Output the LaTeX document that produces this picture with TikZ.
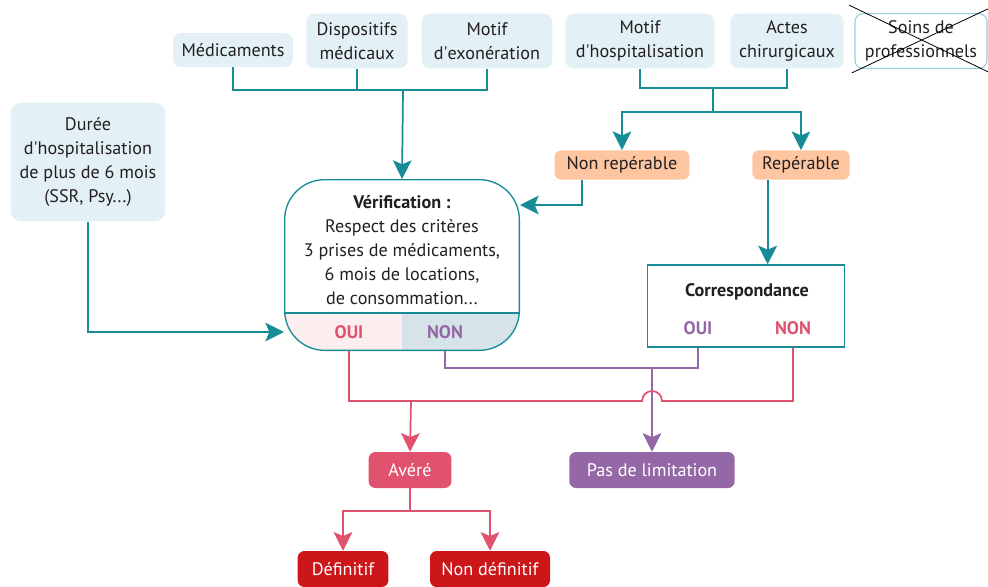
\documentclass[tikz,border=0pt]{standalone}
\usepackage{fontspec}
\setmainfont{PT Sans}
\usepackage{xcolor}
\usepackage{tikz}
\usetikzlibrary{arrows.meta,positioning,calc}
\definecolor{tealc}{RGB}{24,140,150}
\definecolor{lblue}{RGB}{227,241,247}
\definecolor{lborder}{RGB}{150,205,225}
\definecolor{peach}{RGB}{253,197,160}
\definecolor{pinkc}{RGB}{224,82,110}
\definecolor{purc}{RGB}{148,104,166}
\definecolor{dred}{RGB}{204,22,26}
\definecolor{ouibg}{RGB}{252,238,238}
\definecolor{nonbg}{RGB}{214,228,233}
\definecolor{txt}{RGB}{35,31,32}
\newcommand\apos{\textquotesingle}

\begin{document}
\begin{tikzpicture}[
  x=0.75pt, y=-0.75pt,
  font=\fontsize{13.6}{18}\selectfont, text=txt,
  every node/.style={inner sep=2pt, align=center},
  src/.style={rounded corners=6pt, fill=lblue},
  tag/.style={rounded corners=5pt, fill=peach, minimum height=22pt},
  res/.style={rounded corners=5pt, text=white, minimum height=27pt},
  yn/.style={font=\fontsize{13.6}{18}\selectfont\bfseries},
  tline/.style={draw=tealc, line width=1.3pt},
  tarrow/.style={tline, -{Stealth[width=14pt,length=14pt,inset=3pt]}},
  rline/.style={draw=pinkc, line width=1.3pt},
  rarrow/.style={rline, -{Stealth[width=14pt,length=14pt,inset=3pt]}},
  pline/.style={draw=purc, line width=1.3pt},
  parrow/.style={pline, -{Stealth[width=14pt,length=14pt,inset=3pt]}},
]
\useasboundingbox (0,0) rectangle (988,586);
% ---- sources
\node[src, minimum width=90pt, minimum height=25.5pt] (med) at (233,50) {Médicaments};
\node[src, minimum width=76pt, minimum height=41pt] (disp) at (357,41) {Dispositifs\\médicaux};
\node[src, minimum width=98pt, minimum height=41pt] (exo) at (487,41) {Motif\\d\apos exonération};
\node[src, minimum width=112pt, minimum height=41pt] (hosp) at (640,41) {Motif\\d\apos hospitalisation};
\node[src, minimum width=85pt, minimum height=41pt] (actes) at (787,41) {Actes\\chirurgicaux};
\node[src, fill=white, draw=lborder, line width=0.8pt, minimum width=99pt, minimum height=41pt] (soins) at (921,41) {Soins de\\professionnels};
\draw[black, line width=0.6pt] ([xshift=-4pt,yshift=6pt]soins.north west) -- ([xshift=2pt,yshift=-3pt]soins.south east);
\draw[black, line width=0.6pt] ([xshift=-2pt,yshift=-3pt]soins.south west) -- ([xshift=2pt,yshift=4pt]soins.north east);
\node[src, rounded corners=8pt, minimum width=116pt, minimum height=89pt] (duree) at (88,162)
  {Durée\\d\apos hospitalisation\\de plus de 6 mois\\(SSR, Psy...)};
% ---- repérable or not
\node[tag, minimum width=101pt] (nonrep) at (622,165) {Non repérable};
\node[tag, minimum width=73pt] (rep) at (801,165) {Repérable};
% ---- vérification
\node[draw=tealc, line width=1pt, rounded corners=30pt, minimum width=176pt, minimum height=128pt,
  path picture={
    \fill[ouibg, sharp corners] (path picture bounding box.south west) rectangle ($(path picture bounding box.south)+(0,28pt)$);
    \fill[nonbg, sharp corners] (path picture bounding box.south) rectangle ($(path picture bounding box.south east)+(0,28pt)$);
    \draw[tealc, line width=1pt] ($(path picture bounding box.south west)+(0,28pt)$) -- ($(path picture bounding box.south east)+(0,28pt)$);
  }] (verif) at (402,265) {};
\node (veriftxt) at (402,250) {\textbf{Vérification :}\\Respect des critères\\3 prises de médicaments,\\6 mois de locations,\\de consommation...};
\node[yn, text=pinkc] (voui) at (349,332) {OUI};
\node[yn, text=purc] (vnon) at (445,332) {NON};
% ---- correspondance
\node[draw=tealc, line width=1pt, minimum width=148pt, minimum height=61.5pt] (corr) at (746,306) {};
\node[yn] (corrtxt) at (747,292) {Correspondance};
\node[yn, text=purc] (coui) at (698,328) {OUI};
\node[yn, text=pinkc] (cnon) at (793,328) {NON};
% ---- results
\node[res, fill=pinkc, minimum width=62pt] (avere) at (410,470) {Avéré};
\node[res, fill=purc, minimum width=124pt] (pasdelim) at (652,470) {Pas de limitation};
\node[res, fill=dred, minimum width=68pt] (defin) at (343,569) {Définitif};
\node[res, fill=dred, minimum width=90pt] (nondef) at (490,569) {Non définitif};
% ---- teal connectors
\coordinate (jl) at (403,90);
\draw[tline] (med.south) |- (jl) -| (exo.south);
\draw[tline] (disp.south) -- (disp.south |- jl);
\draw[tarrow] (jl) -- (verif.north);
\coordinate (jr) at (713,88);
\coordinate (jr2) at (713,112);
\draw[tline] (hosp.south) |- (jr) -| (actes.south);
\draw[tline] (jr) -- (jr2);
\draw[tarrow] (jr2) -| (nonrep.north);
\draw[tarrow] (jr2) -| (rep.north);
\draw[tarrow] ([xshift=-30pt]nonrep.south) |- ($(verif.east)+(0,45pt)$);
\draw[tarrow] (duree.south) |- (verif.west |- voui);
\draw[tarrow] ([xshift=-25pt]rep.south) -- ([xshift=-25pt]rep.south |- corr.north);
% ---- purple: no limitation
\coordinate (jp) at (652,368);
\draw[pline] (vnon |- verif.south) |- (jp) -| (coui |- corr.south);
\draw[parrow] (jp) -- (pasdelim.north);
% ---- pink: avéré, with a jump over the purple line
\coordinate (jo) at (411,401);
\draw[rline] (voui |- verif.south) |- ([xshift=-7.5pt]jp |- jo) arc[start angle=180, end angle=360, radius=10] -| (cnon |- corr.south);
\draw[rarrow] (jo) -- (avere.north);
\coordinate (ja) at (410,511);
\draw[rline] (avere.south) -- (ja);
\draw[rarrow] (ja) -| (defin.north);
\draw[rarrow] (ja) -| (nondef.north);
\end{tikzpicture}
\end{document}
